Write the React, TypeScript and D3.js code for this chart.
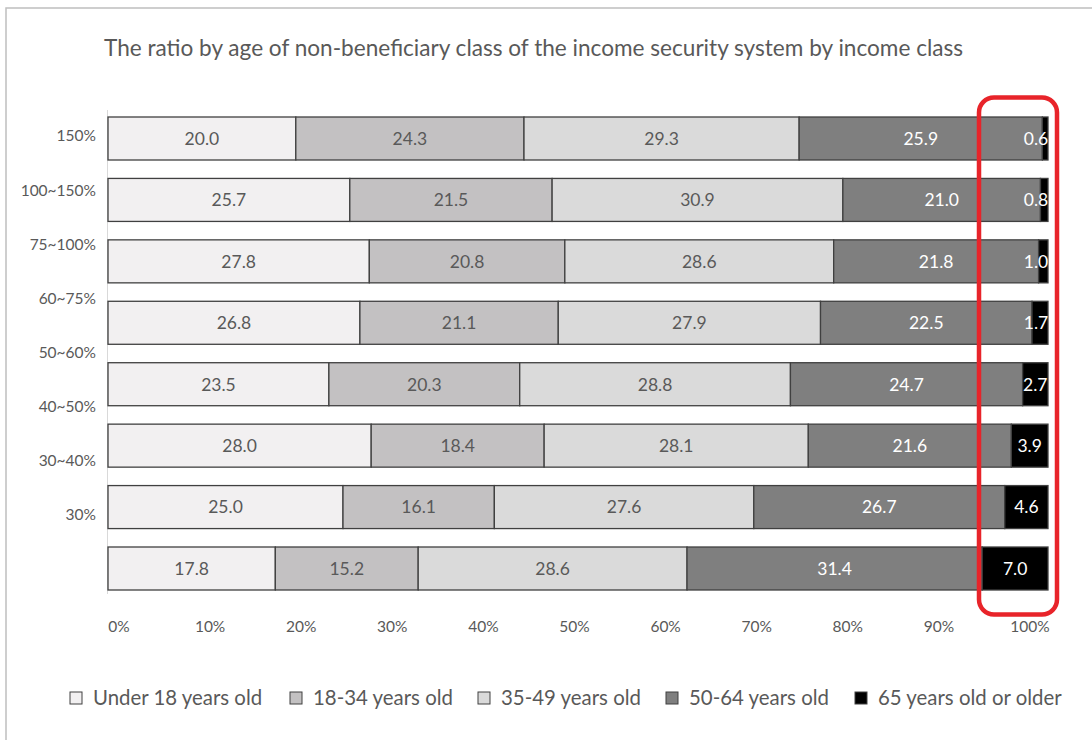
import React from "react";
import * as d3 from "d3";

const categories = ["150%", "100~150%", "75~100%", "60~75%", "50~60%", "40~50%", "30~40%", "30%"];
const seriesNames = ["Under 18 years old", "18-34 years old", "35-49 years old", "50-64 years old", "65 years old or older"];
const under18 = [20.0, 25.7, 27.8, 26.8, 23.5, 28.0, 25.0, 17.8];
const age18to34 = [24.3, 21.5, 20.8, 21.1, 20.3, 18.4, 16.1, 15.2];
const age35to49 = [29.3, 30.9, 28.6, 27.9, 28.8, 28.1, 27.6, 28.6];
const age50to64 = [25.9, 21.0, 21.8, 22.5, 24.7, 21.6, 26.7, 31.4];
const age65plus = [0.6, 0.8, 1.0, 1.7, 2.7, 3.9, 4.6, 7.0];
const tickLabels = ["0%", "10%", "20%", "30%", "40%", "50%", "60%", "70%", "80%", "90%", "100%"];
const title = "The ratio by age of non-beneficiary class of the income security system by income class";

const colors = ["#F2F0F1", "#C3C1C2", "#DADADA", "#7F7F7F", "#000000"];
const labelColors = ["#595959", "#595959", "#595959", "#FFFFFF", "#FFFFFF"];
const FONT = "Lato, 'Open Sans', sans-serif";

export default function App() {
  const W = 1092, H = 740;
  const seriesVals = [under18, age18to34, age35to49, age50to64, age65plus];
  const rows = categories.map((c, i) => {
    const o: any = { cat: c };
    seriesNames.forEach((s, j) => (o[s] = seriesVals[j][i]));
    return o;
  });
  const stack = d3.stack<any>().keys(seriesNames).offset(d3.stackOffsetExpand);
  const stacked = stack(rows);

  const x = d3.scaleLinear().domain([0, 1]).range([108, 1048]);
  const y = d3.scaleBand().domain(categories).range([117, 590]).paddingInner(0.3).paddingOuter(0);
  const yLab = d3.scalePoint().domain(categories).range([136, 515]);
  const xLab = d3.scalePoint().domain(tickLabels).range([119, 1030]);

  const legendX = [70, 290, 478, 666, 855];

  return (
    <svg width={W} height={H} style={{ position: "absolute", left: 0, top: 0, background: "#fff" }} fontFamily={FONT}>
      <rect x={6} y={8} width={W} height={H} fill="#fff" stroke="#BFBFBF" strokeWidth={1.5} />
      <text x={104} y={56} fontSize={22.6} fill="#595959">{title}</text>

      <line x1={107.5} x2={107.5} y1={110} y2={594} stroke="#D9D9D9" strokeWidth={1} />

      {stacked.map((layer, si) => (
        <g key={si}>
          {layer.map((d, ri) => {
            const x0 = x(d[0]), x1 = x(d[1]);
            const yy = y(categories[ri])!;
            return (
              <rect key={ri} x={x0} y={yy} width={Math.max(0, x1 - x0)} height={y.bandwidth()}
                fill={colors[si]} stroke="#404040" strokeWidth={1.3} />
            );
          })}
        </g>
      ))}
      {stacked.map((layer, si) => (
        <g key={"l" + si}>
          {layer.map((d, ri) => {
            const cx = (x(d[0]) + x(d[1])) / 2;
            const lx = Math.min(cx, x(1) - 12);
            const yy = y(categories[ri])! + y.bandwidth() / 2;
            return (
              <text key={ri} x={lx} y={yy} dy="0.36em" textAnchor="middle" fontSize={17.5} fill={labelColors[si]}>
                {seriesVals[si][ri].toFixed(1)}
              </text>
            );
          })}
        </g>
      ))}

      {categories.map((c) => (
        <text key={c} x={96} y={yLab(c)} dy="0.35em" textAnchor="end" fontSize={15.5} fill="#595959">{c}</text>
      ))}
      {tickLabels.map((t) => (
        <text key={t} x={xLab(t)} y={627} dy="0.35em" textAnchor="middle" fontSize={15.5} fill="#595959">{t}</text>
      ))}

      {seriesNames.map((s, i) => (
        <g key={s}>
          <rect x={legendX[i]} y={692} width={12} height={12} fill={colors[i]} stroke="#404040" strokeWidth={1} />
          <text x={legendX[i] + 23} y={698} dy="0.36em" fontSize={20.4} fill="#595959">{s}</text>
        </g>
      ))}

      <rect x={979} y={97.5} width={78} height={517} rx={15} ry={15} fill="none" stroke="#E8242A" strokeWidth={4.5} />
    </svg>
  );
}
